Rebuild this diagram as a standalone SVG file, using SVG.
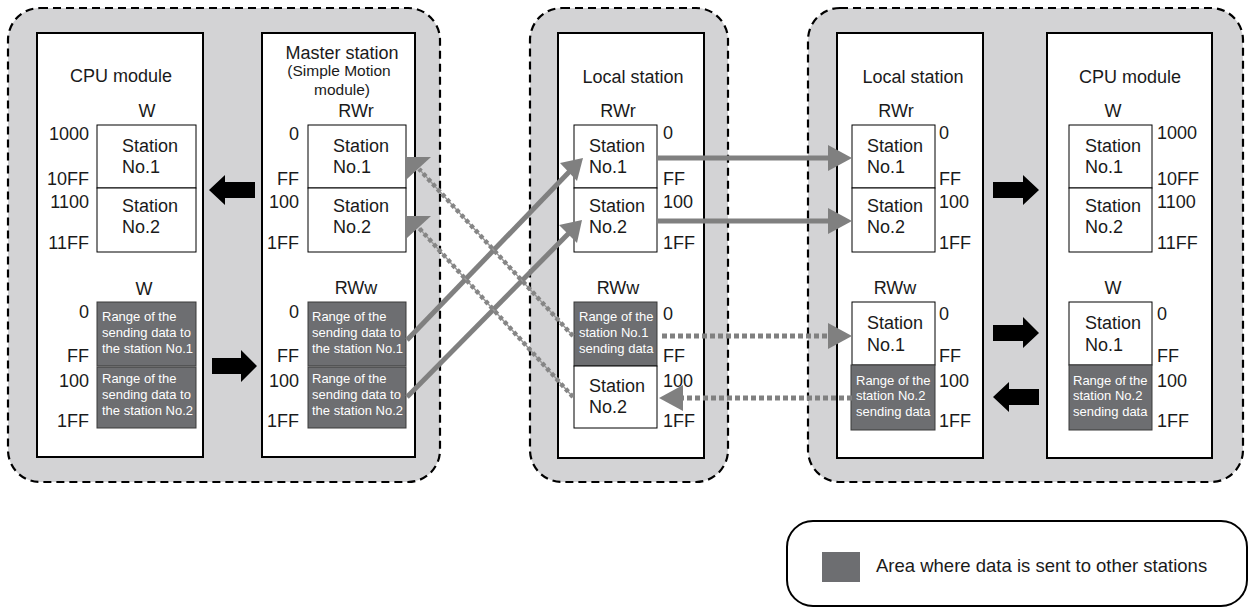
<svg xmlns="http://www.w3.org/2000/svg" width="1255" height="608" viewBox="0 0 1255 608">
<style>
.grp{fill:#d3d3d5;stroke:#000;stroke-width:2.2;stroke-dasharray:8 5}
.box{fill:#fff;stroke:#000;stroke-width:2}
.cell{fill:#fff;stroke:#000;stroke-width:1}
.dark{fill:#6d6e71;stroke:#3a3a3a;stroke-width:1}
text{font-family:"Liberation Sans",Arial,sans-serif;fill:#1a1a1a}
.t{font-size:18px}
.tm{font-size:18px;text-anchor:middle}
.tr{font-size:18px;text-anchor:end}
.ts{font-size:15.5px;text-anchor:middle}
.tw{font-size:13px;fill:#fff}
.solid{stroke:#808080;stroke-width:5;fill:none}
.dot{stroke:#808080;stroke-width:5;stroke-dasharray:5 3;fill:none}
.ddot{stroke:#858585;stroke-width:4.5;stroke-dasharray:4 3;fill:none}
.dthin{stroke:#9a9a9a;stroke-width:1.5;fill:none}
.ghead{fill:#808080}
.black{fill:#000}
</style>

<!-- containers -->
<rect class="grp" x="8" y="8" width="432" height="474" rx="32"/>
<rect class="grp" x="530" y="8" width="198" height="474" rx="32"/>
<rect class="grp" x="808" y="8" width="435" height="474" rx="32"/>

<g id="cpu-left">
<rect class="box" x="37" y="33" width="166" height="424"/>
<text class="tm" x="121" y="82">CPU module</text>
<text class="tm" x="147" y="117">W</text>
<rect class="cell" x="97" y="125" width="99" height="63"/>
<rect class="cell" x="97" y="188" width="99" height="64"/>
<text class="t" x="122" y="152">Station</text><text class="t" x="122" y="173">No.1</text>
<text class="t" x="122" y="212">Station</text><text class="t" x="122" y="233">No.2</text>
<text class="tr" x="89" y="140">1000</text><text class="tr" x="89" y="185">10FF</text>
<text class="tr" x="89" y="208">1100</text><text class="tr" x="89" y="249">11FF</text>
<text class="tm" x="144" y="295">W</text>
<rect class="dark" x="97" y="302" width="99" height="64"/>
<rect class="dark" x="97" y="367" width="99" height="61"/>
<text class="tw" x="102" y="321">Range of the</text><text class="tw" x="102" y="337">sending data to</text><text class="tw" x="102" y="353">the station No.1</text>
<text class="tw" x="102" y="383">Range of the</text><text class="tw" x="102" y="399">sending data to</text><text class="tw" x="102" y="415">the station No.2</text>
<text class="tr" x="89" y="318">0</text><text class="tr" x="89" y="362">FF</text>
<text class="tr" x="89" y="387">100</text><text class="tr" x="89" y="427">1FF</text>
</g>

<g id="master">
<rect class="box" x="262" y="33" width="153" height="424"/>
<text class="tm" x="342" y="59">Master station</text>
<text class="ts" x="339" y="76">(Simple Motion</text>
<text class="ts" x="342" y="95">module)</text>
<text class="tm" x="356" y="117">RWr</text>
<rect class="cell" x="308" y="125" width="98" height="63"/>
<rect class="cell" x="308" y="188" width="98" height="64"/>
<text class="t" x="333" y="152">Station</text><text class="t" x="333" y="173">No.1</text>
<text class="t" x="333" y="212">Station</text><text class="t" x="333" y="233">No.2</text>
<text class="tr" x="299" y="140">0</text><text class="tr" x="299" y="185">FF</text>
<text class="tr" x="299" y="208">100</text><text class="tr" x="299" y="249">1FF</text>
<text class="tm" x="356" y="294">RWw</text>
<rect class="dark" x="308" y="302" width="98" height="64"/>
<rect class="dark" x="308" y="367" width="98" height="61"/>
<text class="tw" x="312" y="321">Range of the</text><text class="tw" x="312" y="337">sending data to</text><text class="tw" x="312" y="353">the station No.1</text>
<text class="tw" x="312" y="383">Range of the</text><text class="tw" x="312" y="399">sending data to</text><text class="tw" x="312" y="415">the station No.2</text>
<text class="tr" x="299" y="318">0</text><text class="tr" x="299" y="362">FF</text>
<text class="tr" x="299" y="387">100</text><text class="tr" x="299" y="427">1FF</text>
</g>

<g id="local-mid">
<rect class="box" x="558" y="33" width="146" height="425"/>
<text class="tm" x="633" y="83">Local station</text>
<text class="tm" x="618" y="117">RWr</text>
<rect class="cell" x="574" y="125" width="83" height="63"/>
<rect class="cell" x="574" y="188" width="83" height="64"/>
<text class="t" x="589" y="152">Station</text><text class="t" x="589" y="173">No.1</text>
<text class="t" x="589" y="212">Station</text><text class="t" x="589" y="233">No.2</text>
<text class="t" x="663" y="139">0</text><text class="t" x="663" y="185">FF</text>
<text class="t" x="663" y="208">100</text><text class="t" x="663" y="249">1FF</text>
<text class="tm" x="618" y="294">RWw</text>
<rect class="dark" x="574" y="302" width="83" height="64"/>
<rect class="cell" x="574" y="366" width="83" height="62"/>
<text class="tw" x="579" y="321">Range of the</text><text class="tw" x="579" y="337">station No.1</text><text class="tw" x="579" y="353">sending data</text>
<text class="t" x="589" y="392">Station</text><text class="t" x="589" y="413">No.2</text>
<text class="t" x="663" y="320">0</text><text class="t" x="663" y="362">FF</text>
<text class="t" x="663" y="387">100</text><text class="t" x="663" y="427">1FF</text>
</g>

<g id="local-right">
<rect class="box" x="837" y="33" width="146" height="425"/>
<text class="tm" x="913" y="83">Local station</text>
<text class="tm" x="896" y="117">RWr</text>
<rect class="cell" x="852" y="125" width="83" height="63"/>
<rect class="cell" x="852" y="188" width="83" height="64"/>
<text class="t" x="867" y="152">Station</text><text class="t" x="867" y="173">No.1</text>
<text class="t" x="867" y="212">Station</text><text class="t" x="867" y="233">No.2</text>
<text class="t" x="939" y="139">0</text><text class="t" x="939" y="185">FF</text>
<text class="t" x="939" y="208">100</text><text class="t" x="939" y="249">1FF</text>
<text class="tm" x="895" y="294">RWw</text>
<rect class="cell" x="852" y="302" width="83" height="63"/>
<rect class="dark" x="851" y="365" width="84" height="65"/>
<text class="t" x="867" y="329">Station</text><text class="t" x="867" y="351">No.1</text>
<text class="tw" x="856" y="385">Range of the</text><text class="tw" x="856" y="400">station No.2</text><text class="tw" x="856" y="416">sending data</text>
<text class="t" x="939" y="320">0</text><text class="t" x="939" y="362">FF</text>
<text class="t" x="939" y="387">100</text><text class="t" x="939" y="427">1FF</text>
</g>

<g id="cpu-right">
<rect class="box" x="1047" y="33" width="165" height="425"/>
<text class="tm" x="1130" y="83">CPU module</text>
<text class="tm" x="1113" y="117">W</text>
<rect class="cell" x="1069" y="125" width="83" height="63"/>
<rect class="cell" x="1069" y="188" width="83" height="64"/>
<text class="t" x="1085" y="152">Station</text><text class="t" x="1085" y="173">No.1</text>
<text class="t" x="1085" y="212">Station</text><text class="t" x="1085" y="233">No.2</text>
<text class="t" x="1157" y="139">1000</text><text class="t" x="1157" y="185">10FF</text>
<text class="t" x="1157" y="208">1100</text><text class="t" x="1157" y="249">11FF</text>
<text class="tm" x="1113" y="294">W</text>
<rect class="cell" x="1069" y="302" width="83" height="63"/>
<rect class="dark" x="1069" y="365" width="83" height="65"/>
<text class="t" x="1085" y="329">Station</text><text class="t" x="1085" y="351">No.1</text>
<text class="tw" x="1073" y="385">Range of the</text><text class="tw" x="1073" y="400">station No.2</text><text class="tw" x="1073" y="416">sending data</text>
<text class="t" x="1157" y="320">0</text><text class="t" x="1157" y="362">FF</text>
<text class="t" x="1157" y="387">100</text><text class="t" x="1157" y="427">1FF</text>
</g>

<g id="connectors">
<!-- black block arrows -->
<polygon class="black" points="255,182 225,182 225,175 209,190 225,205 225,198 255,198"/>
<polygon class="black" points="212,358 241,358 241,350 257,366 241,382 241,374 212,374"/>
<polygon class="black" points="993,182 1023,182 1023,175 1039,190 1023,205 1023,198 993,198"/>
<polygon class="black" points="993,325 1023,325 1023,317 1039,333 1023,348 1023,341 993,341"/>
<polygon class="black" points="1039,389 1009,389 1009,382 993,397 1009,412 1009,405 1039,405"/>

<!-- solid gray: master RWw -> local RWr -->
<line class="solid" x1="407" y1="340" x2="570" y2="171"/>
<polygon class="ghead" points="583,158 560,163 577,181"/>
<line class="solid" x1="407" y1="397" x2="569" y2="233"/>
<polygon class="ghead" points="582,220 559,225 577,243"/>

<!-- solid gray: local RWr -> local RWr (right) -->
<line class="solid" x1="657" y1="158" x2="830" y2="158"/>
<polygon class="ghead" points="828,145 852,158 828,171"/>
<line class="solid" x1="657" y1="221" x2="830" y2="221"/>
<polygon class="ghead" points="828,208 852,221 828,234"/>

<!-- dotted: local mid RWw No.1 -> right local RWw -->
<line class="dot" x1="662" y1="336" x2="830" y2="336"/>
<polygon class="ghead" points="828,323 852,336 828,349"/>
<!-- dotted: right local RWw No.2 -> mid local RWw No.2 -->
<line class="dot" x1="852" y1="398" x2="681" y2="398"/>
<polygon class="ghead" points="683,385 659,398 683,411"/>

<!-- diagonal dotted to master RWr -->
<line class="dthin" x1="573" y1="336" x2="419" y2="169"/>
<line class="ddot" x1="573" y1="336" x2="419" y2="169"/>
<polygon class="ghead" points="407,157 431,157 407,179"/>
<line class="dthin" x1="573" y1="397" x2="419" y2="228"/>
<line class="ddot" x1="573" y1="397" x2="419" y2="228"/>
<polygon class="ghead" points="407,216 431,216 407,238"/>
</g>

<g id="legend">
<rect x="787" y="521" width="460" height="85" rx="26" fill="#fff" stroke="#000" stroke-width="2"/>
<rect x="822" y="552" width="38" height="30" fill="#6d6e71"/>
<text x="876" y="572" style="font-size:18.5px">Area where data is sent to other stations</text>
</g>
</svg>
